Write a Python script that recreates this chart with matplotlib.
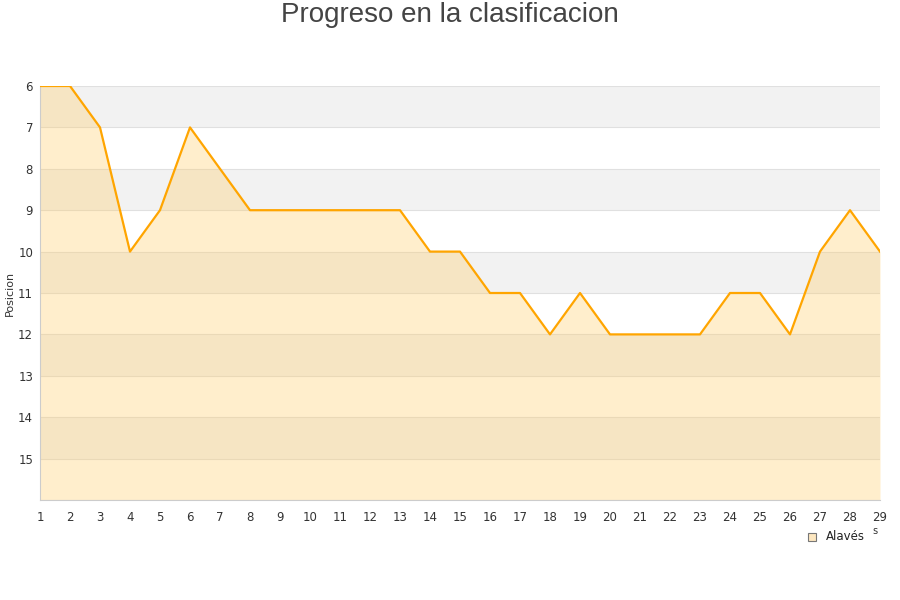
import matplotlib
matplotlib.use("Agg")
import matplotlib.pyplot as plt

# Jornadas y posicion del Alaves
jornadas = list(range(1, 30))
posicion = [6, 6, 7, 10, 9, 7, 8, 9, 9, 9, 9, 9, 9, 10, 10,
            11, 11, 12, 11, 12, 12, 12, 12, 11, 11, 12, 10, 9, 10]
y_ticks = list(range(6, 16))

fig = plt.figure(figsize=(9, 6), dpi=100)
ax = fig.add_axes([40 / 900, 100 / 600, 840 / 900, 414 / 600])

# bandas alternas
for y0 in range(6, 16, 2):
    ax.axhspan(y0, y0 + 1, color="#f2f2f2", zorder=0, lw=0)
for y in range(6, 17):
    ax.axhline(y, color="#e0e0e0", lw=0.8, zorder=1)

ax.fill_between(jornadas, posicion, 16, color="#ffcc66", alpha=0.33, lw=0, zorder=2)
ax.plot(jornadas, posicion, color="#ffa500", lw=1.6, zorder=3)

ax.set_xlim(1, 29)
ax.set_ylim(16, 6)
ax.set_xticks(jornadas)
ax.set_yticks(y_ticks)
ax.tick_params(length=0, labelsize=8.5, colors="#333333", pad=8)
ax.tick_params(axis="y", pad=5)
for s in ["top", "right"]:
    ax.spines[s].set_visible(False)
for s in ["left", "bottom"]:
    ax.spines[s].set_color("#cccccc")
ax.set_ylabel("Posicion", fontsize=8, color="#333333")
ax.yaxis.set_label_coords(-25 / 840, 0.5)

fig.text(0.5, 1 - 15 / 600, "Progreso en la clasificacion", ha="center", va="center",
         fontsize=20, color="#444444", family="Liberation Sans")

# leyenda
fig.patches.append(plt.Rectangle((808 / 900, 1 - 541 / 600), 8 / 900, 8 / 600,
                                 transform=fig.transFigure, facecolor="#fde7c0",
                                 edgecolor="#777777", lw=0.8))
fig.text(826 / 900, 1 - 537 / 600, "Alavés", fontsize=8.5, color="#222222", va="center")
fig.text(875 / 900, 1 - 531 / 600, "s", fontsize=7, color="#333333", va="center", ha="center")

fig.savefig("out.png", dpi=100)
